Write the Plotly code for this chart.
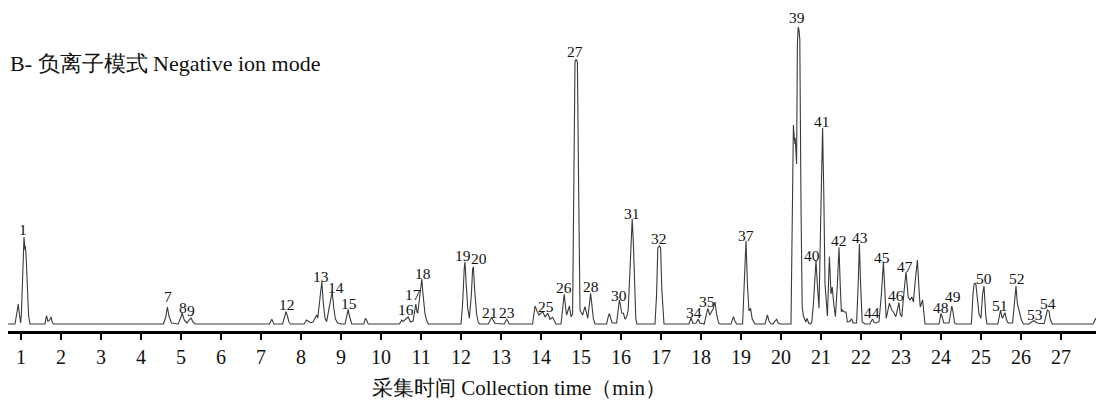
import plotly.graph_objects as go

# Chromatogram trace (retention time in min, relative intensity)
trace_time = [
    0.65, 0.85, 0.90, 0.93, 0.96, 0.99, 1.01, 1.04, 1.075, 1.10, 1.11, 1.13, 1.16, 1.19, 1.225,
    1.60, 1.62, 1.64, 1.67, 1.70, 1.73, 1.75, 1.78, 1.81,
    4.56, 4.62, 4.66, 4.70, 4.76, 4.93, 5.00, 5.03, 5.08, 5.15, 5.20, 5.25, 5.30, 5.35,
    7.21, 7.245, 7.27, 7.30, 7.325, 7.54, 7.59, 7.625, 7.66, 7.70, 7.74,
    8.08, 8.14, 8.20, 8.24, 8.30, 8.36, 8.39, 8.42, 8.47, 8.52, 8.56, 8.60, 8.64,
    8.72, 8.78, 8.82, 8.86, 8.92, 9.00, 9.10, 9.15, 9.18, 9.21, 9.27,
    9.57, 9.61, 9.64, 9.68,
    10.46, 10.52, 10.55, 10.60, 10.64, 10.68, 10.74, 10.80, 10.84, 10.87, 10.90, 10.92,
    10.96, 11.00, 11.02, 11.05, 11.08, 11.10, 11.14, 11.18,
    12.00, 12.04, 12.08, 12.10, 12.13, 12.17, 12.21, 12.26, 12.29, 12.31, 12.34, 12.37,
    12.39, 12.43, 12.46, 12.68, 12.74, 12.77, 12.80, 12.85, 13.08, 13.12, 13.14, 13.17, 13.20,
    13.79, 13.82, 13.85, 13.90, 13.95, 14.04, 14.10, 14.17, 14.225, 14.29, 14.375,
    14.50, 14.54, 14.58, 14.62, 14.64, 14.71, 14.75,
    14.79, 14.82, 14.85, 14.875, 14.91, 14.94, 14.975, 15.00, 15.04, 15.10, 15.17,
    15.21, 15.24, 15.27, 15.31, 15.35, 15.64, 15.68, 15.71, 15.74, 15.78,
    15.89, 15.93, 15.96, 15.99, 16.02, 16.06, 16.10, 16.14,
    16.18, 16.22, 16.26, 16.28, 16.31, 16.34, 16.37, 16.40,
    16.85, 16.89, 16.92, 16.96, 16.99, 17.02, 17.075,
    17.70, 17.75, 17.80, 17.88, 17.93, 17.97,
    18.08, 18.12, 18.17, 18.22, 18.30, 18.35, 18.39, 18.44, 18.48,
    18.75, 18.81, 18.85, 18.89,
    19.04, 19.08, 19.125, 19.16, 19.20, 19.24, 19.28, 19.35,
    19.60, 19.66, 19.70, 19.75, 19.80, 19.85, 19.89, 19.93, 19.98,
    20.25, 20.28, 20.31, 20.33, 20.35, 20.355, 20.37, 20.375, 20.39,
    20.41, 20.43, 20.45, 20.47, 20.50, 20.53, 20.56, 20.59, 20.62, 20.65, 20.69, 20.74,
    20.77, 20.81, 20.85, 20.875, 20.90, 20.93, 20.95,
    20.99, 21.04, 21.07, 21.10, 21.16, 21.21, 21.25, 21.28, 21.32, 21.36,
    21.41, 21.45, 21.48, 21.51, 21.53, 21.58, 21.625, 21.66, 21.70, 21.75, 21.77, 21.80,
    21.89, 21.93, 21.96, 21.99, 22.03, 22.10,
    22.22, 22.27, 22.29, 22.33, 22.38, 22.45,
    22.51, 22.56, 22.59, 22.61, 22.63, 22.68, 22.71, 22.77, 22.81, 22.87, 22.95, 22.98, 23.02,
    23.07, 23.125, 23.18, 23.225, 23.27, 23.31, 23.36, 23.41, 23.45, 23.48, 23.54, 23.57, 23.60,
    23.95, 23.98, 24.00, 24.03, 24.07, 24.20, 24.24, 24.27, 24.30, 24.34, 24.38,
    24.76, 24.80, 24.83, 24.87, 24.90, 24.95, 25.00, 25.04, 25.075, 25.10, 25.12, 25.15,
    25.42, 25.46, 25.49, 25.52, 25.54, 25.57, 25.60, 25.64, 25.68,
    25.79, 25.83, 25.875, 25.91, 25.96, 26.01, 26.06,
    26.20, 26.28, 26.325, 26.38, 26.45, 26.58, 26.62, 26.66, 26.70, 26.73, 26.78,
    27.80, 27.87, 27.92, 27.96, 27.98,
]
trace_intensity = [
    0, 0, 12, 20, 10, 1, 10, 55, 87, 74, 78, 66, 35, 8, 0,
    0, 5, 8, 3, 3.3, 5, 7, 2, 0,
    0, 7, 17, 8, 1, 0, 7, 11, 4, 1, 4, 6, 2, 0,
    0, 3, 4.7, 2, 0, 0, 7, 12.3, 8, 2, 0,
    0, 4, 2, 1.3, 2, 7, 9, 6, 22, 42.3, 20, 6, 2.3,
    18, 32.3, 16, 5, 1, 0, 0, 8, 14.7, 8, 0,
    0, 5.7, 4, 0,
    0, 4, 2.5, 4, 5, 7, 2, 3, 12, 20, 12, 10.7,
    25, 42, 45, 30, 15, 10, 4, 0,
    0, 20, 55, 62.3, 40, 15, 5.7, 30, 55, 57.3, 35, 12,
    10, 2, 0, 0, 5, 6.7, 4, 0.5, 0, 4, 4.7, 3, 0,
    0, 10, 18, 13, 9, 12.3, 7.3, 10.7, 4.7, 6.7, 0,
    0, 15, 29.7, 15, 9, 18, 7.3,
    10, 130, 262, 264.7, 262, 140, 14, 12, 9, 17.3, 5.7,
    20, 30.7, 20, 5, 0, 0, 7, 10.7, 6, 1,
    1, 18, 24, 18, 11, 10.7, 5, 6.7,
    14, 50, 100, 105, 80, 30, 5, 0,
    0, 30, 76, 78.3, 76, 35, 0,
    0, 6, 0.5, 1, 5, 1,
    0, 8, 15.7, 9, 15, 22, 10, 1, 0,
    0, 7.3, 3, 0,
    0, 40, 83.3, 40, 13, 15.7, 5, 0,
    0, 9, 3, 0.5, 0, 3, 4.7, 1, 0,
    0, 100, 199, 187, 180, 186, 168, 174, 160,
    280, 297, 294, 285, 120, 17, 8, 5.7, 2, 5.7, 1, 0,
    2, 20, 50, 64, 45, 18, 15.7,
    100, 196.3, 130, 40, 8, 67.3, 30, 37, 20, 7.3,
    40, 76.7, 40, 12, 14, 12, 12, 2, 2, 5, 5, 1,
    1, 40, 80, 40, 2, 0,
    0, 4, 4.7, 1.5, 1, 2.3,
    30, 62, 35, 8, 5.7, 15, 20.7, 14, 12, 7.3, 21.3, 10, 7.3,
    30, 52.3, 27, 24, 27, 22, 45, 64, 35, 17, 24, 8, 0,
    0, 7, 10.7, 7, 1, 1, 12, 18, 12, 1, 0,
    0, 30, 40, 40.7, 30, 10, 5.7, 30, 38, 20, 8, 0,
    0, 8, 14, 7, 5.7, 9, 11.3, 4, 1,
    1, 20, 38, 20, 10.7, 4, 0,
    0, 2.5, 3.3, 1.5, 0.5, 0.5, 6, 14, 13, 5, 0,
    0, 5.7, 2, 0, 0,
]

# Peak numbers and where their labels sit (time, intensity)
peak_labels = ["1", "7", "8", "9", "12", "13", "14", "15", "16", "17", "18", "19", "20",
               "21", "23", "25", "26", "27", "28", "30", "31", "32", "34", "35", "37", "39",
               "40", "41", "42", "43", "44", "45", "46", "47", "48", "49", "50", "51", "52",
               "53", "54"]
label_time = [1.06, 4.67, 5.04, 5.25, 7.66, 8.51, 8.88, 9.21, 10.62, 10.81, 11.04, 12.06, 12.46,
              12.725, 13.15, 14.12, 14.575, 14.85, 15.24, 15.95, 16.27, 16.95, 17.83, 18.14, 19.12,
              20.41, 20.77, 21.03, 21.46, 21.975, 22.27, 22.52, 22.875, 23.09, 23.99, 24.29,
              25.075, 25.475, 25.89, 26.35, 26.68]
label_height = [94.7, 27.3, 16.7, 14, 20, 48, 36.2, 20.7, 15, 30, 50.7, 69, 65.7,
                11.7, 11.7, 18, 36.7, 272.3, 37.3, 29, 110.7, 85.7, 11.3, 22.3, 89,
                306.7, 69, 202.3, 83.3, 86.7, 11.7, 66.7, 29, 57.3, 16.7, 27.3,
                45.7, 19, 45.7, 10, 20.7]

tick_values = list(range(1, 28))
tick_labels = [str(v) for v in tick_values]

title_text = "B- 负离子模式 Negative ion mode"
xaxis_title = "采集时间 Collection time（min）"

SERIF = "Liberation Serif"

fig = go.Figure()
fig.add_trace(go.Scatter(
    x=trace_time, y=trace_intensity, mode="lines",
    line=dict(color="#3a3a3a", width=1.1), hoverinfo="skip", showlegend=False,
))

for lab, lt, lh in zip(peak_labels, label_time, label_height):
    fig.add_annotation(x=lt, y=lh, text=lab, showarrow=False, xanchor="center", yanchor="middle",
                       font=dict(family=SERIF, size=15.5, color="#111"))

fig.add_annotation(xref="paper", yref="paper", x=0.0, y=0.845, text=title_text, showarrow=False,
                   xanchor="left", yanchor="middle", font=dict(family=SERIF, size=22, color="#111"))
fig.add_annotation(xref="paper", yref="paper", x=0.468, y=-0.18, text=xaxis_title, showarrow=False,
                   xanchor="center", yanchor="middle", font=dict(family=SERIF, size=21, color="#111"))

fig.update_xaxes(range=[0.675, 27.975], tickvals=tick_values, ticktext=tick_labels,
                 showline=True, linewidth=3, linecolor="black", ticks="outside", ticklen=6,
                 tickwidth=1.5, tickcolor="black", showgrid=False, zeroline=False,
                 tickfont=dict(family=SERIF, size=20, color="#111"))
fig.update_yaxes(range=[-7, 309], visible=False, showgrid=False, zeroline=False)

# the page body adds an 8 px offset; size the figure to sit in the window
fig.update_layout(width=1096, height=397, margin=dict(l=0, r=4, t=7, b=74, autoexpand=False),
                  plot_bgcolor="white", paper_bgcolor="white")

fig.write_html("out.html")
